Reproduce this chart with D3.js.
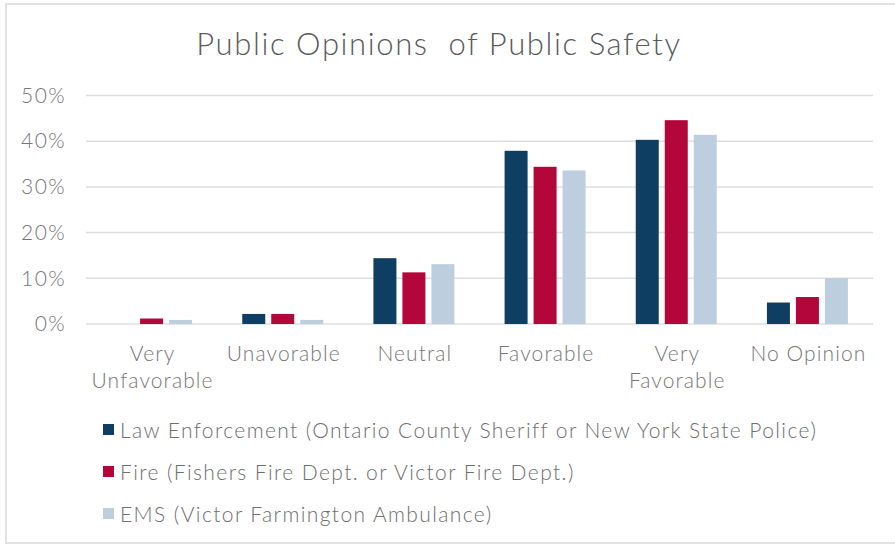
<!DOCTYPE html>
<html>
<head>
<meta charset="utf-8">
<script src="https://cdn.jsdelivr.net/npm/d3@7"></script>
<style>
  html, body { margin: 0; padding: 0; background: #fff; }
  svg { display: block; }
  text { font-family: Lato, "Open Sans", sans-serif; font-weight: 300; }
</style>
</head>
<body>
<svg id="chart" width="895" height="544"></svg>
<script>
// Survey categories along the x axis (line breaks marked with \n)
const categories = ["Very\nUnfavorable", "Unavorable", "Neutral", "Favorable", "Very\nFavorable", "No Opinion"];

// Share of respondents per category, by agency
const lawEnforcement = [0.000, 0.022, 0.144, 0.379, 0.403, 0.047];
const fire           = [0.012, 0.022, 0.113, 0.344, 0.446, 0.059];
const ems            = [0.009, 0.009, 0.131, 0.336, 0.414, 0.100];

const seriesNames = [
  "Law Enforcement (Ontario County Sheriff or New York State Police)",
  "Fire (Fishers Fire Dept. or Victor Fire Dept.)",
  "EMS (Victor Farmington Ambulance)"
];
const seriesColors = ["#0f3e63", "#b3063b", "#bdcfde"];
const yTicks = [0, 0.1, 0.2, 0.3, 0.4, 0.5];

const seriesValues = [lawEnforcement, fire, ems];

const svg = d3.select("#chart");

// Light frame along the top, left and bottom edges
svg.append("path")
  .attr("d", "M 900 4 H 6 V 543 H 900")
  .attr("fill", "none")
  .attr("stroke", "#e2e2e2")
  .attr("stroke-width", 2);

// Title
svg.append("text")
  .attr("x", 439)
  .attr("y", 55)
  .attr("text-anchor", "middle")
  .attr("fill", "#5a5a5a")
  .attr("font-size", 31)
  .attr("letter-spacing", 1.6)
  .style("white-space", "pre")
  .text("Public Opinions  of Public Safety");

const x0 = d3.scaleBand().domain(d3.range(categories.length)).range([86, 873]);
const x1 = d3.scaleBand().domain(d3.range(seriesValues.length)).range([0, 81]).paddingInner(0.207);
const y = d3.scaleLinear().domain([0, 0.5]).range([324, 95.5]);

// Horizontal gridlines
svg.append("g")
  .selectAll("line")
  .data(yTicks)
  .join("line")
  .attr("x1", 86)
  .attr("x2", 873)
  .attr("y1", d => y(d))
  .attr("y2", d => y(d))
  .attr("stroke", "#dedede")
  .attr("stroke-width", 1.5);

// Percentage axis labels
const yAxis = d3.axisLeft(y)
  .tickValues(yTicks)
  .tickFormat(d3.format(".0%"))
  .tickSize(0)
  .tickPadding(20);

const gy = svg.append("g")
  .attr("transform", "translate(86,0)")
  .call(yAxis);
gy.select(".domain").remove();
gy.selectAll("text")
  .attr("fill", "#767676")
  .attr("font-size", 21)
  .attr("letter-spacing", 1.4)
  .attr("font-family", "Lato, sans-serif");

// Grouped bars
const groups = svg.append("g")
  .selectAll("g")
  .data(categories.map((c, i) => i))
  .join("g")
  .attr("transform", i => `translate(${x0(i) + x0.bandwidth() / 2 - 40.5},0)`);

groups.selectAll("rect")
  .data(i => seriesValues.map((vals, s) => ({ s, v: vals[i] })))
  .join("rect")
  .attr("x", d => x1(d.s))
  .attr("width", x1.bandwidth())
  .attr("y", d => y(d.v))
  .attr("height", d => y(0) - y(d.v))
  .attr("fill", d => seriesColors[d.s]);

// Category labels
const xl = svg.append("g")
  .selectAll("text")
  .data(categories)
  .join("text")
  .attr("x", (c, i) => x0(i) + x0.bandwidth() / 2 + 1)
  .attr("y", 361)
  .attr("text-anchor", "middle")
  .attr("fill", "#767676")
  .attr("font-size", 21)
  .attr("letter-spacing", 1.1);
xl.selectAll("tspan")
  .data(c => c.split("\n"))
  .join("tspan")
  .attr("x", function () { return this.parentNode.getAttribute("x"); })
  .attr("dy", (d, i) => i === 0 ? 0 : 27)
  .text(d => d);

// Legend
const legend = svg.append("g")
  .selectAll("g")
  .data(seriesNames)
  .join("g")
  .attr("transform", (d, i) => `translate(103,${438 + i * 42})`);
legend.append("rect")
  .attr("x", 0)
  .attr("y", -14)
  .attr("width", 11)
  .attr("height", 11)
  .attr("fill", (d, i) => seriesColors[i]);
legend.append("text")
  .attr("x", 17)
  .attr("y", 0)
  .attr("fill", "#6e6e6e")
  .attr("font-size", 21)
  .attr("letter-spacing", 1.4)
  .text(d => d);
</script>
</body>
</html>
